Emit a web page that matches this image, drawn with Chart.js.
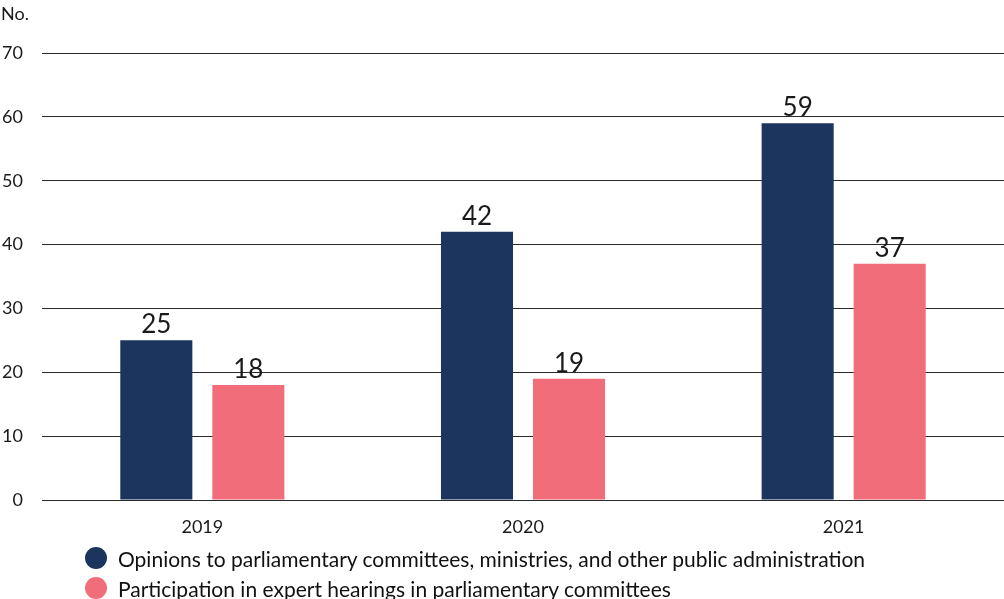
<!DOCTYPE html>
<html>
<head>
<meta charset="utf-8">
<script src="https://cdn.jsdelivr.net/npm/chart.js@4/dist/chart.umd.min.js"></script>
<style>
  html, body { margin: 0; padding: 0; background: #fff; }
  #wrap { position: relative; width: 1004px; height: 599px; }
  canvas { position: absolute; left: 0; top: 0; }
  #legend { position: absolute; left: 85px; top: 543px; font-family: 'Lato', sans-serif; font-size: 21px; color: #111; }
  .item { display: flex; align-items: center; height: 30px; white-space: nowrap; }
  .dot { width: 22px; height: 22px; border-radius: 50%; margin-right: 11px; flex: none; }
</style>
</head>
<body>
<div id="wrap">
  <canvas id="c" width="1004" height="599"></canvas>
  <div id="legend"></div>
</div>
<script>
const categories = ['2019', '2020', '2021'];
const seriesLabels = [
  'Opinions to parliamentary committees, ministries, and other public administration',
  'Participation in expert hearings in parliamentary committees'
];
const opinions = [25, 42, 59];
const hearings = [18, 19, 37];
const yTicks = [0, 10, 20, 30, 40, 50, 60, 70];
const colors = ['#1c355e', '#f26d7a'];
const FONT = "'Lato', sans-serif";

const valueLabels = {
  id: 'valueLabels',
  afterDatasetsDraw(chart) {
    const ctx = chart.ctx;
    ctx.save();
    ctx.font = '26px ' + FONT;
    ctx.fillStyle = '#1a1a1a';
    ctx.textAlign = 'center';
    ctx.textBaseline = 'alphabetic';
    chart.data.datasets.forEach((ds, i) => {
      chart.getDatasetMeta(i).data.forEach((bar, j) => {
        ctx.fillText(String(ds.data[j]), bar.x, bar.y - 7);
      });
    });
    ctx.restore();
  }
};

const unitLabel = {
  id: 'unitLabel',
  afterDraw(chart) {
    const ctx = chart.ctx;
    ctx.save();
    ctx.font = '18px ' + FONT;
    ctx.fillStyle = '#1a1a1a';
    ctx.textAlign = 'left';
    ctx.textBaseline = 'middle';
    ctx.fillText('No.', 1, 14);
    ctx.restore();
  }
};

new Chart(document.getElementById('c'), {
  type: 'bar',
  data: {
    labels: categories,
    datasets: [
      { label: seriesLabels[0], data: opinions, backgroundColor: colors[0] },
      { label: seriesLabels[1], data: hearings, backgroundColor: colors[1] }
    ]
  },
  options: {
    responsive: false,
    animation: false,
    devicePixelRatio: 1,
    layout: { padding: { top: 53, right: 0, bottom: 59, left: 0 } },
    datasets: { bar: { categoryPercentage: 0.574, barPercentage: 0.783 } },
    plugins: { legend: { display: false }, tooltip: { enabled: false } },
    scales: {
      x: {
        grid: { display: false, drawTicks: false },
        border: { display: false },
        ticks: { font: { family: FONT, size: 18 }, color: '#1a1a1a', padding: 16 },
        afterFit(s) { s.height = 40; }
      },
      y: {
        min: 0, max: 70,
        afterBuildTicks(s) { s.ticks = yTicks.map(v => ({ value: v })); },
        grid: { color: '#2a2a2a', lineWidth: 1, drawTicks: false },
        border: { display: false },
        ticks: { font: { family: FONT, size: 18 }, color: '#1a1a1a', padding: 19 },
        afterFit(s) { s.width = 42; }
      }
    }
  },
  plugins: [valueLabels, unitLabel]
});

const legend = document.getElementById('legend');
seriesLabels.forEach((t, i) => {
  const row = document.createElement('div');
  row.className = 'item';
  const d = document.createElement('span');
  d.className = 'dot';
  d.style.background = colors[i];
  const s = document.createElement('span');
  s.textContent = t;
  row.appendChild(d); row.appendChild(s);
  legend.appendChild(row);
});
</script>
</body>
</html>
